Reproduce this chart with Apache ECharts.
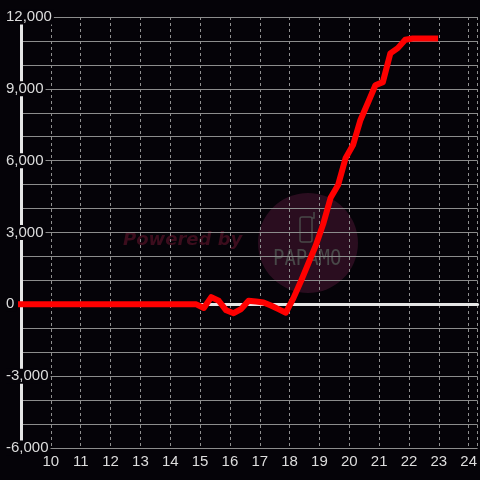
<!DOCTYPE html>
<html>
<head>
<meta charset="utf-8">
<script src="https://cdn.jsdelivr.net/npm/echarts@6/dist/echarts.min.js"></script>
<style>
html,body{margin:0;padding:0;background:#050308;}
#c{width:480px;height:480px;}
</style>
</head>
<body>
<div id="c"></div>
<script>
// hour of day
var hours = [8.87, 14.875, 15.125, 15.375, 15.625, 15.875, 16.125, 16.375, 16.625, 16.875, 17.125, 17.375, 17.625, 17.875,
  18.125, 18.375, 18.625, 18.875, 19.125, 19.375, 19.625, 19.875, 20.125, 20.375, 20.625, 20.875,
  21.125, 21.375, 21.625, 21.875, 22.125, 22.375, 22.625, 22.975];
var values = [0, 0, -150, 300, 150, -250, -370, -200, 150, 120, 80, -50, -200, -350,
  250, 950, 1700, 2450, 3350, 4450, 4980, 6100, 6650, 7700, 8420, 9150,
  9280, 10480, 10700, 11050, 11100, 11100, 11100, 11100];
var xTicks = [10, 11, 12, 13, 14, 15, 16, 17, 18, 19, 20, 21, 22, 23, 24];
var yLabelTicks = [-6000, -3000, 0, 3000, 6000, 9000, 12000];

var chart = echarts.init(document.getElementById('c'), null, {renderer: 'canvas'});
var data = hours.map(function (h, i) { return [h, values[i]]; });
var option = {
  backgroundColor: '#050308',
  animation: false,
  grid: {left: 21, right: 0, top: 17, bottom: 32, containLabel: false},
  graphic: [
    {type: 'circle', z: -1, shape: {cx: 308, cy: 243, r: 50}, style: {fill: '#2a0d1f'}},
    {type: 'text', z: -1, left: 123, top: 231,
      style: {text: 'Powered by', fill: '#3c0d1d', font: 'italic bold 18px "DejaVu Sans"'}},
    {type: 'text', z: -1, x: 273, y: 248, scaleX: 0.86,
      style: {text: 'PAPAMO', fill: '#484848', font: '22px "DejaVu Sans Mono"'}},
    {type: 'rect', z: -1, shape: {x: 300, y: 217, width: 12, height: 25, r: 2},
      style: {fill: 'none', stroke: '#484848', lineWidth: 1.5}},
    {type: 'polyline', z: -1, shape: {points: [[312, 218], [314, 218], [314, 212]]},
      style: {fill: 'none', stroke: '#484848', lineWidth: 1.5}}
  ],
  xAxis: [{
    type: 'value', min: 9, max: 24.3, interval: 1,
    axisLine: {show: false, onZero: false},
    axisTick: {show: false},
    axisLabel: {color: '#dddddd', fontSize: 15, fontFamily: 'Liberation Sans', margin: 6,
      showMinLabel: false, showMaxLabel: false,
      formatter: function (v) { return xTicks.indexOf(v) >= 0 ? String(v) : ''; }},
    splitLine: {show: true, lineStyle: {color: '#8f8f8f', type: [3, 3], width: 1}}
  }, {
    type: 'value', min: 9, max: 24.3, interval: 1, position: 'bottom',
    axisLine: {show: true, onZero: true, onZeroAxisIndex: 0, lineStyle: {color: '#e6e6e6', width: 3}},
    axisTick: {show: false}, axisLabel: {show: false}, splitLine: {show: false}
  }],
  yAxis: [{
    type: 'value', min: -6000, max: 12000, interval: 1000,
    axisLine: {show: false}, axisTick: {show: false}, axisLabel: {show: false},
    splitLine: {show: true, lineStyle: {color: '#8c8c8c', width: 1}}
  }, {
    type: 'value', min: -6000, max: 12000, interval: 3000, position: 'left',
    axisLine: {show: true, onZero: false, lineStyle: {color: '#e6e6e6', width: 3}},
    axisTick: {show: false},
    axisLabel: {color: '#dddddd', fontSize: 15, fontFamily: 'Liberation Sans', margin: 15, align: 'left',
      backgroundColor: '#050308', padding: [0, 2, 0, 0],
      formatter: function (v) { return yLabelTicks.indexOf(v) >= 0 ? v.toLocaleString('en-US') : ''; }},
    splitLine: {show: false}
  }],
  series: [{
    type: 'line', xAxisIndex: 0, yAxisIndex: 0, data: data,
    showSymbol: false, symbol: 'none', smooth: false, clip: false,
    lineStyle: {color: '#ff0000', width: 6, join: 'round', cap: 'butt'},
    z: 5
  }]
};
chart.setOption(option);
</script>
</body>
</html>
